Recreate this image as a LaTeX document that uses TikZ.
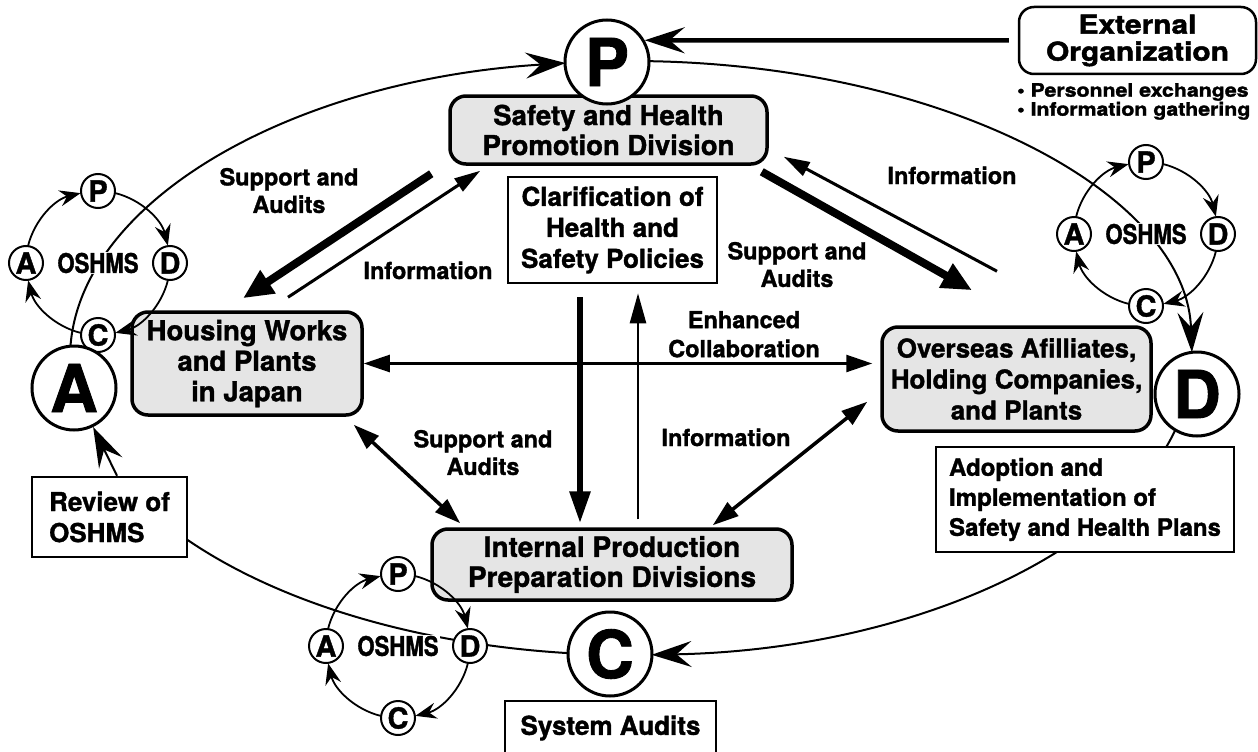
\documentclass[tikz,border=0pt]{standalone}
\usepackage{fontspec}
\setmainfont{TeX Gyre Heros}[BoldFeatures={FakeBold=1.3}]
\newfontfamily\condfont{TeX Gyre Heros}[FakeStretch=0.82, BoldFeatures={FakeBold=1.3}]
\newfontfamily\widefont{TeX Gyre Heros}[FakeStretch=1.15, BoldFeatures={FakeBold=1.8}]
\usetikzlibrary{arrows.meta}

\begin{document}
\begin{tikzpicture}[x=1pt, y=-1pt, >=Stealth,
		dept/.style={draw, line width=3.5pt, fill=gray!20, rounded corners=16pt, align=center, inner sep=0pt, font=\bfseries\fontsize{27.5}{30}\selectfont},
		note/.style={draw, line width=2.5pt, fill=white, align=center, inner sep=0pt, font=\bfseries\fontsize{26}{31}\selectfont},
		lbl/.style={align=center, inner sep=0pt, font=\bfseries\fontsize{23.5}{27.5}\selectfont},
		stage/.style={draw, circle, line width=3pt, fill=white, minimum size=84pt, inner sep=0pt, font=\bfseries\fontsize{66}{66}\selectfont},
		mini/.style={draw, circle, line width=2pt, fill=white, minimum size=34pt, inner sep=0pt, font=\bfseries\fontsize{29}{29}\selectfont},
		oshms/.style={fill=white, inner sep=1pt, font=\condfont\bfseries\fontsize{27}{27}\selectfont},
		ring/.style={line width=2pt, -{Stealth[length=40pt,width=26pt,inset=15pt]}},
		turn/.style={line width=1.8pt, -{Stealth[length=21pt,width=16pt,inset=7pt]}},
		heavy/.style={line width=8pt, -{Triangle[length=30pt,width=26pt]}},
		light/.style={line width=3pt, -{Triangle[length=26pt,width=15pt]}},
		link/.style={line width=3.5pt, {Triangle[length=26pt,width=17pt]}-{Triangle[length=26pt,width=17pt]}}]
		\useasboundingbox (0,0) rectangle (1258,752);
		% the big P-D-C-A loop (ellipse pieces, pixel frame angles)
		\coordinate (E) at (631,358);
		\draw[ring] (E) ++(182.3:561 and 297) arc[start angle=182.3, end angle=263.3, x radius=561, y radius=297];
		\draw[ring] (E) ++(271.8:561 and 297) arc[start angle=271.8, end angle=358.9, x radius=561, y radius=297];
		\draw[ring] (E) ++(14:561 and 297) arc[start angle=14, end angle=87.9, x radius=561, y radius=297];
		\draw[ring, -] (E) ++(96.5:561 and 297) arc[start angle=96.5, end angle=143, x radius=561, y radius=297];
		% divisions
		\node[dept, minimum width=317pt, minimum height=68pt] (shpd) at (608.5,130) {Safety and Health\\Promotion Division};
		\node[note, minimum width=209pt, minimum height=106pt] (clar) at (612.5,230) {Clarification of\\Health and\\Safety Policies};
		\node[dept, minimum width=230pt, minimum height=103pt, font=\bfseries\fontsize{27.5}{30.5}\selectfont] (works) at (247,363.5) {Housing Works\\and Plants\\in Japan};
		\node[dept, minimum width=269pt, minimum height=104pt, font=\bfseries\fontsize{26}{31}\selectfont] (overseas) at (1016.5,379) {Overseas Afilliates,\\Holding Companies,\\and Plants};
		\node[dept, minimum width=360pt, minimum height=71pt, font=\bfseries\fontsize{28}{30}\selectfont] (internal) at (612,564.5) {Internal Production\\Preparation Divisions};
		\node[note, align=left, minimum width=298pt, minimum height=105pt, font=\bfseries\fontsize{24}{30}\selectfont] (plans) at (1085,499.5) {Adoption and\\Implementation of\\Safety and Health Plans};
		\node[note, align=left, minimum width=155pt, minimum height=80pt] (review) at (109.5,517) {Review of\\OSHMS};
		\node[note, minimum width=211pt, minimum height=54pt] (audits) at (610.5,728) {System Audits};
		\node[note, rounded corners=15pt, minimum width=237pt, minimum height=67pt, font=\widefont\bfseries\fontsize{26}{27}\selectfont] (ext) at (1137.5,40.5) {External\\Organization};
		\node[anchor=north west, align=left, inner sep=0pt, font=\widefont\bfseries\fontsize{18.5}{19}\selectfont] (gain) at (1017,83) {\textbullet\ Personnel exchanges\\\textbullet\ Information gathering};
		% small OSHMS cycle, left
		\coordinate (LC) at (98,263);
		\draw[turn] (LC) ++(194:72) arc[start angle=194, end angle=256, radius=72];
		\draw[turn] (LC) ++(284:72) arc[start angle=284, end angle=346, radius=72];
		\draw[turn] (LC) ++(14:72) arc[start angle=14, end angle=76, radius=72];
		\draw[turn] (LC) ++(104:72) arc[start angle=104, end angle=166, radius=72];
		\node[oshms] (lO) at (LC) {OSHMS};
		\node[mini] (lP) at (98,191) {P};
		\node[mini] (lD) at (170,263) {D};
		\node[mini] (lC) at (98,335) {C};
		\node[mini] (lA) at (26,263) {A};
		% small OSHMS cycle, right
		\coordinate (RC) at (1146,234);
		\draw[turn] (RC) ++(194:72) arc[start angle=194, end angle=256, radius=72];
		\draw[turn] (RC) ++(284:72) arc[start angle=284, end angle=346, radius=72];
		\draw[turn] (RC) ++(14:72) arc[start angle=14, end angle=76, radius=72];
		\draw[turn] (RC) ++(104:72) arc[start angle=104, end angle=166, radius=72];
		\node[oshms] (rO) at (RC) {OSHMS};
		\node[mini] (rP) at (1146,162) {P};
		\node[mini] (rD) at (1218,234) {D};
		\node[mini] (rC) at (1146,306) {C};
		\node[mini] (rA) at (1074,234) {A};
		% small OSHMS cycle, bottom
		\coordinate (BC) at (398,646);
		\draw[turn] (BC) ++(194:72) arc[start angle=194, end angle=256, radius=72];
		\draw[turn] (BC) ++(284:72) arc[start angle=284, end angle=346, radius=72];
		\draw[turn] (BC) ++(14:72) arc[start angle=14, end angle=76, radius=72];
		\draw[turn] (BC) ++(104:72) arc[start angle=104, end angle=166, radius=72];
		\node[oshms] (bO) at (BC) {OSHMS};
		\node[mini] (bP) at (398,574) {P};
		\node[mini] (bD) at (470,646) {D};
		\node[mini] (bC) at (398,718) {C};
		\node[mini] (bA) at (326,646) {A};
		% P D C A stages on the loop
		\node[stage] (P) at (607,62) {P};
		\node[stage] (D) at (1197,394) {D};
		\node[stage] (C) at (610,654) {C};
		\node[stage] (A) at (74,388) {A};
		\draw[ring] ([xshift=7.5]review.north) -- (A);
		\draw[ring, line width=4.5pt] ([xshift=-9]ext.west) -- (P.30);
		% flows between divisions
		\draw[heavy] ([shift={(-17,8)}]shpd.south west) -- ([shift={(-4,-12)}]works.north);
		\draw[light] ([shift={(41,-13)}]works.north) -- ([shift={(32,5)}]shpd.south west);
		\draw[heavy] ([shift={(-7,6)}]shpd.south east) -- ([shift={(-44.5,-35)}]overseas.north);
		\draw[light] ([shift={(-19.5,-54)}]overseas.north) -- ([shift={(15,-9)}]shpd.south east);
		\draw[heavy, line width=6pt, -{Triangle[length=32pt,width=20pt]}] ([shift={(-32.5,13)}]clar.south) -- ([shift={(-32,-4)}]internal.north);
		\draw[light, line width=2.5pt, -{Triangle[length=30pt,width=16pt]}] ([shift={(26,-8)}]internal.north) -- ([shift={(25.5,9)}]clar.south);
		\draw[link, line width=2.5pt, shorten >=8pt] (works.east) -- (works.east -| overseas.west);
		\draw[link] ([shift={(-10,8)}]works.south east) -- ([shift={(30,-4)}]internal.north west);
		\draw[link] ([shift={(-81,-2)}]internal.north east) -- ([shift={(-13,-31)}]overseas.south west);
		% labels
		\node[lbl, anchor=north] (sa1) at (289,167.8) {Support and\\Audits};
		\node[lbl, anchor=base] (in1) at (428,279) {Information};
		\node[lbl, anchor=base] (in2) at (952,184) {Information};
		\node[lbl, anchor=north] (sa2) at (797,241.8) {Support and\\Audits};
		\node[lbl, anchor=north, font=\bfseries\fontsize{23.5}{29}\selectfont] (collab) at (744,310.8) {Enhanced\\Collaboration};
		\node[lbl, anchor=north] (sa3) at (483,429.8) {Support and\\Audits};
		\node[lbl, anchor=base] (in3) at (726,446) {Information};
	\end{tikzpicture}
\end{document}
